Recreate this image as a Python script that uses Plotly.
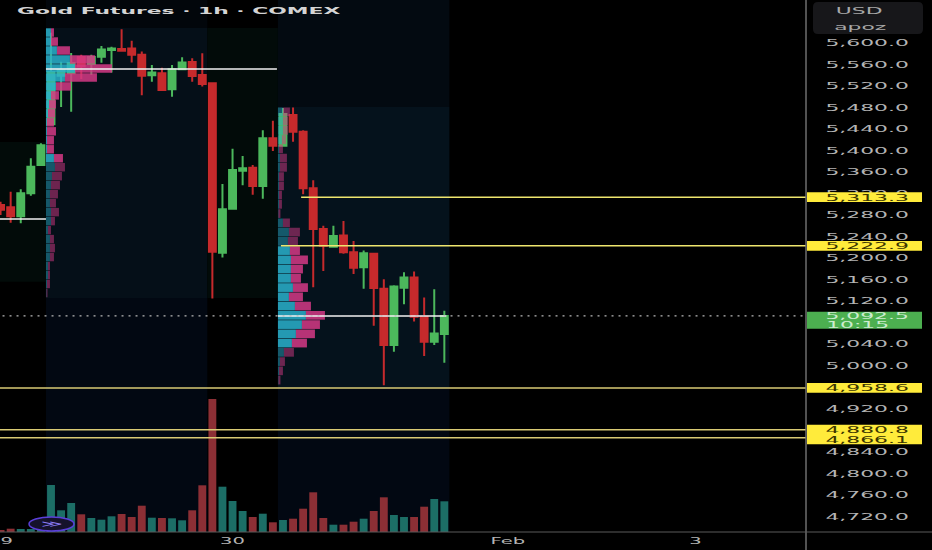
import plotly.graph_objects as go

# candles, index 0 is the first bar of the first session
bars = list(range(-5, 40))
opens = [5299, 5294.5, 5278, 5320.6, 5373, 5449, 5539, 5544, 5574, 5561, 5574.6, 5587, 5589, 5590, 5578,
         5540, 5544, 5514, 5551, 5564.7, 5540.5, 5525, 5210, 5292, 5362.6, 5368, 5334, 5423, 5409, 5466,
         5435, 5330, 5254, 5221, 5242, 5211, 5183, 5208, 5143, 5038.5, 5145, 5164, 5091, 5044.6, 5059]
highs = [5305, 5323.5, 5328, 5385.6, 5413.5, 5619, 5565, 5581.5, 5578, 5578, 5594.5, 5593, 5625.5, 5604, 5584,
         5559, 5554, 5559, 5573.5, 5571.6, 5581, 5525, 5338, 5403.5, 5390, 5373, 5438, 5455.6, 5479, 5480,
         5438, 5345, 5260, 5260, 5269, 5232, 5214, 5209, 5160.7, 5149.5, 5173.7, 5175, 5127, 5142, 5102]
lows = [5280, 5266, 5265, 5316, 5372, 5447.6, 5481, 5472, 5533, 5540.5, 5563.4, 5545, 5584, 5564, 5503,
        5528, 5512.7, 5500, 5550, 5528, 5519, 5125, 5201, 5292, 5335.5, 5318, 5310.5, 5399, 5409, 5416.5,
        5319, 5146, 5176, 5221, 5208, 5170.5, 5143, 5074.4, 4963.6, 5026, 5114, 5082, 5018, 5038.5, 5005.6]
closes = [5290, 5278, 5320.6, 5370, 5410, 5546, 5550, 5563, 5557, 5574, 5588, 5590, 5585.7, 5578, 5539,
          5545, 5512.7, 5551, 5564, 5538.7, 5524, 5212, 5291, 5364, 5367, 5334, 5423, 5409, 5468, 5435,
          5330, 5254, 5223, 5241, 5211, 5182, 5209, 5144.5, 5038.5, 5147, 5164, 5091, 5044.6, 5060, 5092.5]
volumes = [2, 3.3, 3, 3, 3.5, 47, 21.7, 29, 17.7, 14, 12.3, 15.7, 18, 15, 26.3,
           14.3, 14, 13.7, 11.7, 21.7, 46.7, 133, 45.3, 31, 21, 15, 18.3, 9.7, 12, 13.3,
           23.3, 39.7, 14, 7.3, 7.3, 10.3, 13.3, 21, 34.7, 17, 15, 15, 25.3, 33, 30.7]

# volume profiles, top row first
prof1_buy = [5, 5, 11, 24, 29, 19, 10, 5, 3, 2, 1, 1, 1, 1, 8,
             9, 6, 5, 4, 4, 5, 5, 2, 4, 4, 4, 2, 2, 1, 0.5]
prof1_sell = [3, 7, 13, 25, 37, 32, 15, 8, 7, 7, 7, 9, 7, 7, 9,
              10, 10, 9, 8, 6, 8, 4, 3, 4, 5, 4, 2, 2, 3, 1]
prof2_buy = [5, 5, 5, 4, 1, 2, 2, 1, 1, 1, 1, 0.5, 5, 11, 10,
             12, 13, 13, 13, 15, 11, 17, 28, 24, 18, 14, 6, 2, 1, 0.5]
prof2_sell = [7, 5, 5, 4, 4, 7, 7, 5, 5, 3, 3, 2, 7, 11, 10,
              10, 17, 12, 10, 15, 14, 16, 19, 18, 19, 15, 10, 5, 4, 2]
prof1_bright = 15
prof2_bright = [15, 26]

levels = [5313.3, 5222.9, 4958.6, 4880.8, 4866.1]
level_starts = [24.8, 22.8, -5.5, -5.5, -5.5]
level_text_y = [5313.3, 5222.9, 4958.6, 4881.5, 4863.5]
last_price = 5092.5
price_ticks = [5600, 5560, 5520, 5480, 5440, 5400, 5360, 5320, 5280, 5240, 5200, 5160, 5120, 5080,
               5040, 5000, 4960, 4920, 4880, 4840, 4800, 4760, 4720]
date_ticks = [18, 45.3, 63.9]
date_labels = ["30", "Feb", "3"]
first_date_tick = -4.96
first_date_label = "29"

X_RANGE = [-5.057, 74.86]
Y_RANGE = [4690.7, 5680]
BAR_PX = 10.085
ROW1 = 16.7
ROW2 = 17.2

GREEN = "#4cb85c"
RED = "#c62a2c"
LABEL = "#b4b4b4"

fig = go.Figure()

vol_colors = ["#1c6e66" if c >= o else "#8c2f35" for o, c in zip(opens, closes)]
fig.add_trace(go.Bar(x=bars, y=volumes, width=0.78, marker_color=vol_colors, marker_line_width=0,
                     xaxis="x", yaxis="y"))

fig.add_trace(go.Candlestick(x=bars, open=opens, high=highs, low=lows, close=closes,
                             whiskerwidth=0, xaxis="x", yaxis="y2",
                             increasing=dict(line=dict(color=GREEN, width=2), fillcolor=GREEN),
                             decreasing=dict(line=dict(color=RED, width=2), fillcolor=RED)))


def add_profile(buy, sell, start, top, step, is_bright):
    rows = [top - step * i for i in range(len(buy))]
    buy_w = [b / BAR_PX for b in buy]
    sell_w = [s / BAR_PX for s in sell]
    teal = ["rgba(42,178,205,0.85)" if is_bright(i) else "rgba(42,178,205,0.45)" for i in range(len(buy))]
    pink = ["rgba(214,58,134,0.85)" if is_bright(i) else "rgba(214,58,134,0.5)" for i in range(len(buy))]
    fig.add_trace(go.Bar(x=buy_w, y=rows, base=[start] * len(buy), orientation="h", width=step * 0.94,
                         marker_color=teal, marker_line_width=0, xaxis="x2", yaxis="y3"))
    fig.add_trace(go.Bar(x=sell_w, y=rows, base=[start + b for b in buy_w], orientation="h", width=step * 0.94,
                         marker_color=pink, marker_line_width=0, xaxis="x2", yaxis="y3"))


add_profile(prof1_buy, prof1_sell, -0.5, 5619.5, ROW1, lambda i: i < prof1_bright)
add_profile(prof2_buy, prof2_sell, 22.5, 5472, ROW2, lambda i: prof2_bright[0] <= i < prof2_bright[1])

# point of control lines
poc_lines = [([-0.5, 22.4], [5551.7, 5551.7]), ([-5.5, -0.5], [5272.8, 5272.8]), ([22.5, 39.2], [5092.5, 5092.5])]
for xs, ys in poc_lines:
    fig.add_trace(go.Scatter(x=xs, y=ys, mode="lines", line=dict(color="#f2f2f2", width=1.5),
                             xaxis="x2", yaxis="y3"))

fig.add_trace(go.Scatter(x=[-5.5, 75], y=[last_price, last_price], mode="lines",
                         line=dict(color="#b8b8b8", width=1.2, dash="2px,5px"), xaxis="x2", yaxis="y3"))

for lvl, st in zip(levels, level_starts):
    col = "#efe66e" if lvl > 5000 else "#d9ca74"
    fig.add_trace(go.Scatter(x=[st, 75], y=[lvl, lvl], mode="lines", line=dict(color=col, width=1.5),
                             xaxis="x2", yaxis="y3"))

# session shading, all below the traces
shades = [(-0.5, 15.5, 5126, 5628, "#050f18"), (-0.5, 15.5, 4690.7, 5126, "#020812"),
          (-0.5, 15.5, 5628, 5680, "#02060b"), (15.5, 22.5, 5126, 5628, "#020b09"),
          (22.5, 39.5, 4958, 5481, "#05121c"), (22.5, 39.5, 4690.7, 4958, "#020812"),
          (22.5, 39.5, 5481, 5680, "#030a11"), (-5.5, -0.5, 5156, 5416, "#020b09")]
shapes = []
for x0, x1, y0, y1, col in shades:
    shapes.append(dict(type="rect", xref="x", yref="y2", x0=x0, x1=x1, y0=y0, y1=y1,
                       fillcolor=col, line_width=0, layer="below"))

# scale frame
shapes.append(dict(type="line", xref="paper", yref="paper", x0=1, x1=1, y0=-0.034, y1=1,
                   line=dict(color="#6e6e6e", width=1.5)))
shapes.append(dict(type="line", xref="paper", yref="paper", x0=0, x1=1.157, y0=0, y1=0,
                   line=dict(color="#5a5a5a", width=1)))

annots = []
LABEL_X = 867 / 806
TXT = 9.5


def price_label(lo, hi, fill):
    shapes.append(dict(type="rect", xref="paper", yref="y2", x0=807 / 806, x1=922 / 806, y0=lo, y1=hi,
                       fillcolor=fill, line_width=0))


def note(xref, yref, x, y, text, size, color, weight=400):
    annots.append(dict(xref=xref, yref=yref, x=x, y=y, text=text, showarrow=False, xanchor="center",
                       yanchor="middle", font=dict(family="DejaVu Sans", size=size, color=color, weight=weight)))


def px(x):
    return x / 806


def py(y):
    return 1 - y / 532


price_label(5313.3 - 9, 5313.3 + 9, "#ffeb3b")
price_label(5222.9 - 9, 5222.9 + 9, "#ffeb3b")
price_label(4958.6 - 9, 4958.6 + 9, "#ffeb3b")
price_label(4866.1 - 12, 4880.8 + 9.5, "#ffeb3b")
price_label(last_price - 24, last_price + 8, "#4caf50")

for lvl, ty in zip(levels, level_text_y):
    note("paper", "y2", LABEL_X, ty, f"{lvl:,.1f}", TXT, "#3a3500")
note("paper", "y2", LABEL_X, last_price, f"{last_price:,.1f}", TXT, "#cdeccf")
note("paper", "y2", 857 / 806, last_price - 15, "10:15", TXT, "#cdeccf")

# currency box, rounded
l, r, t, b, c = px(813), px(923), py(2), py(34), 5
shapes.append(dict(type="path", xref="paper", yref="paper", fillcolor="#17171a", line_width=0,
                   path=f"M {l + px(c)} {t} L {r - px(c)} {t} Q {r} {t} {r} {py(2 + c)} L {r} {py(34 - c)} "
                        f"Q {r} {b} {r - px(c)} {b} L {l + px(c)} {b} Q {l} {b} {l} {py(34 - c)} "
                        f"L {l} {py(2 + c)} Q {l} {t} {l + px(c)} {t} Z"))
note("paper", "paper", px(859), py(10), "USD", TXT, "#a8a8a8")
note("paper", "paper", px(861), py(27), "apoz", TXT, "#a8a8a8")

note("paper", "paper", px(178), py(10), "Gold Futures · 1h · COMEX", TXT, "#d4d4d4", 600)

# the window cuts this date label in half, as in the screenshot
note("x", "paper", first_date_tick, py(541), first_date_label, 8.5, LABEL)

# replay badge
shapes.append(dict(type="circle", xref="paper", yref="paper", x0=px(29), x1=px(74), y0=py(531),
                   y1=py(517), fillcolor="#15122b", line=dict(color="#5a3fd8", width=1.5)))
note("paper", "paper", px(51), py(524), "≫", 9, "#8a7af0")

fig.update_layout(
    width=932, height=550, margin=dict(l=0, r=126, t=0, b=18),
    paper_bgcolor="#000000", plot_bgcolor="#000000",
    showlegend=False, barmode="overlay", boxgap=0.02, hovermode=False,
    shapes=shapes, annotations=annots,
    xaxis=dict(range=X_RANGE, tickmode="array", tickvals=date_ticks, ticktext=date_labels,
               showgrid=False, zeroline=False, showline=False, ticks="", rangeslider=dict(visible=False),
               ticklabelstandoff=3, tickfont=dict(family="DejaVu Sans", size=8.5, color=LABEL)),
    xaxis2=dict(range=X_RANGE, overlaying="x", visible=False),
    yaxis=dict(range=[0, 532], visible=False),
    yaxis2=dict(range=Y_RANGE, overlaying="y", side="right", tickmode="array", tickvals=price_ticks,
                ticktext=[f"{p:,.1f}" for p in price_ticks], showgrid=False, zeroline=False, showline=False,
                ticks="", ticklabelstandoff=42, tickfont=dict(family="DejaVu Sans", size=TXT, color=LABEL)),
    yaxis3=dict(range=Y_RANGE, overlaying="y", visible=False),
)

# the source screenshot is stretched sideways, so widen the text the same way
stretch = """
document.body.style.margin = '0';
document.body.style.background = '#000';
document.querySelectorAll('.xtick text, .ytick text, .y2tick text, text.annotation-text').forEach(function(t){
  var r0 = t.getBoundingClientRect();
  var old = t.getAttribute('transform') || '';
  t.setAttribute('transform', old + ' scale(2.3,1)');
  var r1 = t.getBoundingClientRect();
  var dx = (r0.left + r0.width / 2) - (r1.left + r1.width / 2);
  t.setAttribute('transform', 'translate(' + dx + ',0) ' + old + ' scale(2.3,1)');
});
"""

fig.write_html("out.html", post_script=stretch, config={"displayModeBar": False})
